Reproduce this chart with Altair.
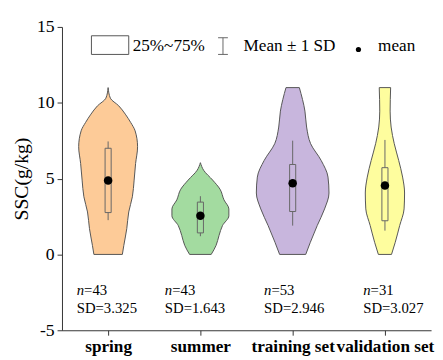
import altair as alt
import pandas as pd

# ---------------- data ----------------
categories = ["spring", "summer", "training set", "validation set"]
colors = ["#FDCB98", "#A3DBA0", "#C8B6DD", "#FEFD9E"]

# violin outlines: SSC level and half width (in pixels of a 94-px category band)
spring_y = [0, 0.6, 1.7, 2.8, 3.8, 4.9, 6.0, 7.1, 8.15, 8.7, 9.25, 9.8, 10.3, 11.0]
spring_w = [14.5, 16, 19, 21, 24.7, 26.5, 28, 30, 27.5, 23, 17.5, 10.8, 2.3, 0]
summer_y = [0, 0.6, 1.25, 1.9, 2.55, 3.0, 3.6, 4.3, 4.9, 5.55, 6.05]
summer_w = [11, 16, 19, 22.5, 29, 29, 24, 20, 12.5, 3.3, 0]
train_y = [0, 0.8, 1.9, 3.0, 4.05, 5.1, 6.2, 7.3, 8.4, 9.45, 11.0]
train_w = [13.3, 18, 25, 32.5, 37, 36, 29, 18.3, 14.2, 12.5, 6.8]
valid_y = [0, 0.8, 1.9, 3.0, 4.05, 5.1, 6.2, 7.3, 8.4, 9.45, 11.0]
valid_w = [6.7, 10.5, 15, 19.5, 20, 18, 14, 9.5, 6.3, 5.3, 5.8]

# box (25%-75%), whiskers and mean
q1 = [2.76, 1.42, 2.83, 2.22]
q3 = [7.0, 3.45, 5.93, 5.72]
w_lo = [2.26, 1.2, 1.9, 1.57]
w_hi = [7.45, 3.84, 7.5, 7.55]
means = [4.87, 2.55, 4.7, 4.55]

n_text = ["=43", "=43", "=53", "=31"]
sd_text = ["SD=3.325", "SD=1.643", "SD=2.946", "SD=3.027"]

# ---------------- tables ----------------
BAND = 94.0
rows = []
for i, (ys, ws) in enumerate([(spring_y, spring_w), (summer_y, summer_w),
                              (train_y, train_w), (valid_y, valid_w)]):
    for y, w in zip(ys, ws):
        rows.append({"cat": categories[i], "idx": i, "y": y, "hw": w / BAND})
vdf = pd.DataFrame(rows)

sdf = pd.DataFrame({
    "cat": categories, "idx": list(range(4)), "q1": q1, "q3": q3,
    "wlo": w_lo, "whi": w_hi, "mean": means, "n": n_text, "sd": sd_text,
})

FONT = "Liberation Serif, 'Times New Roman', serif"
color_scale = alt.Scale(domain=categories, range=colors)
xscale = alt.Scale(domain=[0, 4], nice=False, zero=False)
yscale = alt.Scale(domain=[-5, 15], nice=False, zero=False)

label_expr = ("datum.value < 1 ? 'spring' : datum.value < 2 ? 'summer' : "
              "datum.value < 3 ? 'training set' : 'validation set'")
xaxis = alt.Axis(values=[0.5, 1.5, 2.5, 3.5], labelExpr=label_expr, title=None,
                 grid=False, labelFont=FONT, labelFontSize=17.5, labelFontWeight="bold",
                 labelColor="black", domainColor="#333", tickColor="#333",
                 tickSize=5, labelPadding=3, labelOverlap=False)
yaxis = alt.Axis(values=[-5, 0, 5, 10, 15], title="SSC(g/kg)", grid=False,
                 labelExpr="datum.value < 0 ? '-' + abs(datum.value) : '' + datum.value",
                 labelFont=FONT, labelFontSize=18, labelColor="black",
                 titleFont=FONT, titleFontSize=20, titleFontWeight="normal",
                 titleColor="black", titleX=-31, titleY=154.5,
                 domainColor="#333", tickColor="#333", tickSize=5, labelPadding=3)

base_v = alt.Chart(vdf).transform_calculate(
    xlo="datum.idx + 0.5 - datum.hw", xhi="datum.idx + 0.5 + datum.hw")

violins = base_v.mark_area(orient="horizontal", interpolate="monotone",
                           stroke="#555", strokeWidth=1, opacity=1).encode(
    y=alt.Y("y:Q", scale=yscale, axis=yaxis),
    x=alt.X("xlo:Q", scale=xscale, axis=xaxis, stack=None),
    x2="xhi:Q",
    color=alt.Color("cat:N", scale=color_scale, legend=None),
)

base_s = alt.Chart(sdf).transform_calculate(
    xc="datum.idx + 0.5", xb0="datum.idx + 0.5 - 0.033", xb1="datum.idx + 0.5 + 0.033",
    xt="datum.idx + 0.5 - [0.34, 0.385, 0.31, 0.235][datum.idx]")

whisk = base_s.mark_rule(color="#666", strokeWidth=1).encode(
    x=alt.X("xc:Q", scale=xscale), y=alt.Y("wlo:Q", scale=yscale), y2="whi:Q")

boxes = base_s.mark_rect(stroke="#666", strokeWidth=1).encode(
    x=alt.X("xb0:Q", scale=xscale), x2="xb1:Q",
    y=alt.Y("q1:Q", scale=yscale), y2="q3:Q",
    fill=alt.Fill("cat:N", scale=color_scale, legend=None))

mean_pts = base_s.mark_point(filled=True, color="black", size=75, opacity=1).encode(
    x=alt.X("xc:Q", scale=xscale), y=alt.Y("mean:Q", scale=yscale))

n_italic = base_s.mark_text(text="n", font=FONT, fontSize=15, fontStyle="italic",
                            align="left", baseline="middle", color="black").encode(
    x=alt.X("xt:Q", scale=xscale), y=alt.value(268))
n_val = base_s.mark_text(font=FONT, fontSize=15, align="left", baseline="middle",
                         dx=7.5, color="black").encode(
    x=alt.X("xt:Q", scale=xscale), y=alt.value(268), text="n:N")
sd_lbl = base_s.mark_text(font=FONT, fontSize=15, align="left", baseline="middle",
                          color="black").encode(
    x=alt.X("xt:Q", scale=xscale), y=alt.value(286), text="sd:N")

# ---------------- legend drawn inside the plot ----------------
leg_df = pd.DataFrame({"a": [0]})
leg = alt.Chart(leg_df)
leg_box = leg.mark_rect(fill="white", stroke="#555", strokeWidth=1).encode(
    x=alt.value(30), x2=alt.value(68), y=alt.value(9), y2=alt.value(28))
leg_t1 = leg.mark_text(text="25%~75%", font=FONT, fontSize=17.5, align="left",
                       baseline="middle", color="black").encode(x=alt.value(72), y=alt.value(19))
leg_bar = leg.mark_rule(color="#666").encode(x=alt.value(164), y=alt.value(11), y2=alt.value(28))
leg_cap1 = leg.mark_rule(color="#666").encode(x=alt.value(159), x2=alt.value(169), y=alt.value(11))
leg_cap2 = leg.mark_rule(color="#666").encode(x=alt.value(159), x2=alt.value(169), y=alt.value(28))
leg_t2 = leg.mark_text(text="Mean ± 1 SD", font=FONT, fontSize=17.5, align="left",
                       baseline="middle", color="black").encode(x=alt.value(185), y=alt.value(19))
leg_dot = leg.mark_point(filled=True, color="black", size=28, opacity=1).encode(
    x=alt.value(302), y=alt.value(23))
leg_t3 = leg.mark_text(text="mean", font=FONT, fontSize=17.5, align="left",
                       baseline="middle", color="black").encode(x=alt.value(322), y=alt.value(19))

chart = alt.layer(
    violins, whisk, boxes, mean_pts, n_italic, n_val, sd_lbl,
    leg_box, leg_t1, leg_bar, leg_cap1, leg_cap2, leg_t2, leg_dot, leg_t3,
).properties(
    width=376, height=309,
    autosize=alt.AutoSizeParams(type="none"),
    padding={"left": 55, "top": 16, "right": 4, "bottom": 27},
).configure_view(stroke=None)

chart.save("out.html", embed_options={"renderer": "svg", "actions": False})
